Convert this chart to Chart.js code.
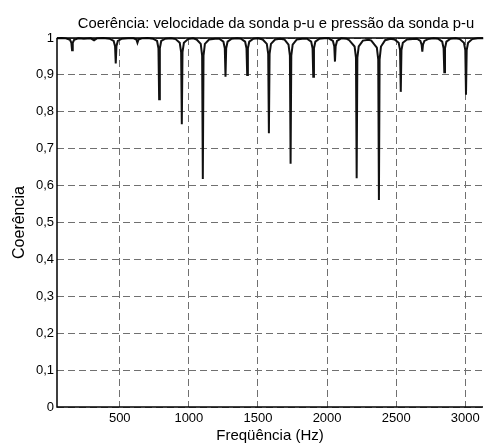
<!DOCTYPE html>
<html>
<head>
<meta charset="utf-8">
<script src="https://cdn.jsdelivr.net/npm/chart.js@4"></script>
<style>
html,body{margin:0;padding:0;background:#fff;}
#wrap{width:484px;height:445px;position:relative;}
</style>
</head>
<body>
<div id="wrap"><canvas id="c" width="484" height="445"></canvas></div>
<script>
const titleText = "Coerência: velocidade da sonda p-u e pressão da sonda p-u";
const xTitle = "Freqüência (Hz)";
const yTitle = "Coerência";
const xTicks = [500, 1000, 1500, 2000, 2500, 3000];
const yTicks = [0, 0.1, 0.2, 0.3, 0.4, 0.5, 0.6, 0.7, 0.8, 0.9, 1];

const freq = [
  45, 80, 110, 140, 150, 155, 160, 170, 200, 240,
  290, 314, 335, 380,
  426, 456, 466, 471, 476, 486, 516, 560,
  600, 620, 628, 636, 660, 700,
  740, 770, 780, 785, 790, 800, 830, 870,
  904, 934, 944, 949, 954, 964, 994, 1030,
  1056, 1086, 1096, 1101, 1106, 1116, 1146, 1190,
  1220, 1250, 1260, 1265, 1270, 1280, 1310, 1350,
  1377, 1407, 1417, 1422, 1427, 1437, 1467, 1500,
  1534, 1564, 1574, 1579, 1584, 1594, 1624, 1660,
  1691, 1721, 1731, 1736, 1741, 1751, 1781, 1820,
  1855, 1885, 1895, 1900, 1905, 1915, 1945, 1980,
  2012, 2042, 2052, 2057, 2062, 2072, 2102, 2140,
  2160, 2199, 2209, 2214, 2219, 2229, 2259, 2300,
  2320, 2360, 2370, 2375, 2380, 2390, 2420, 2460,
  2488, 2518, 2528, 2533, 2538, 2548, 2578, 2620,
  2650, 2675, 2684, 2689, 2694, 2704, 2730, 2770,
  2803, 2833, 2843, 2848, 2853, 2863, 2893, 2930,
  2960, 2990, 3000, 3005, 3010, 3020, 3050, 3090, 3130
];
const coh = [
  0.999, 1.000, 0.999, 0.995, 0.987, 0.967, 0.987, 0.995, 0.999, 0.998,
  0.999, 0.994, 0.999, 1.000,
  0.998, 0.992, 0.978, 0.931, 0.978, 0.992, 0.998, 0.999,
  0.999, 0.996, 0.987, 0.996, 0.999, 1.000,
  0.998, 0.992, 0.972, 0.834, 0.972, 0.992, 0.998, 0.999,
  0.997, 0.987, 0.962, 0.766, 0.962, 0.987, 0.997, 0.999,
  0.996, 0.984, 0.952, 0.618, 0.952, 0.984, 0.996, 0.998,
  0.998, 0.990, 0.972, 0.895, 0.972, 0.990, 0.998, 0.999,
  0.998, 0.990, 0.972, 0.900, 0.972, 0.990, 0.998, 0.999,
  0.996, 0.984, 0.957, 0.742, 0.957, 0.984, 0.996, 0.998,
  0.996, 0.982, 0.952, 0.659, 0.952, 0.982, 0.996, 0.998,
  0.998, 0.990, 0.972, 0.895, 0.972, 0.990, 0.998, 0.999,
  0.999, 0.992, 0.978, 0.936, 0.978, 0.992, 0.999, 0.998,
  0.994, 0.977, 0.947, 0.620, 0.947, 0.977, 0.993, 0.995,
  0.993, 0.974, 0.942, 0.561, 0.942, 0.977, 0.994, 0.998,
  0.996, 0.987, 0.967, 0.854, 0.967, 0.987, 0.996, 0.997,
  0.998, 0.992, 0.982, 0.963, 0.982, 0.992, 0.997, 0.999,
  0.998, 0.990, 0.972, 0.907, 0.972, 0.990, 0.998, 0.999,
  0.997, 0.987, 0.967, 0.846, 0.967, 0.987, 0.997, 0.999, 0.999
];

const FONT = "'Liberation Sans', Arial, sans-serif";
const points = freq.map((f, i) => ({x: f, y: coh[i]}));

const framePlugin = {
  id: 'frame',
  afterDraw(chart) {
    const ctx = chart.ctx, a = chart.chartArea;
    ctx.save();
    ctx.strokeStyle = '#000';
    ctx.lineWidth = 1.5;
    ctx.setLineDash([]);
    ctx.beginPath();
    ctx.moveTo(a.left, a.top);
    ctx.lineTo(a.left, a.bottom);
    ctx.lineTo(a.right, a.bottom);
    ctx.moveTo(a.left, a.top);
    ctx.lineTo(a.right, a.top);
    ctx.stroke();
    ctx.font = "14.8px " + FONT;
    ctx.fillStyle = '#000';
    ctx.textAlign = 'center';
    ctx.textBaseline = 'alphabetic';
    ctx.fillText(titleText, (a.left + a.right) / 2 + 6, 28);
    ctx.restore();
  }
};

new Chart(document.getElementById('c'), {
  type: 'line',
  data: {
    datasets: [{
      data: points,
      borderColor: '#111',
      borderWidth: 2,
      pointRadius: 0,
      tension: 0,
      fill: false,
      clip: false
    }]
  },
  options: {
    responsive: false,
    animation: false,
    devicePixelRatio: 1,
    layout: {padding: {top: 38, right: 1, left: 0, bottom: 0}},
    plugins: {legend: {display: false}, tooltip: {enabled: false}, title: {display: false}},
    scales: {
      x: {
        type: 'linear',
        min: 46, max: 3128,
        afterBuildTicks(s) { s.ticks = xTicks.map(v => ({value: v})); },
        afterFit(s) { s.height = 38; },
        ticks: {color: '#000', font: {family: FONT, size: 13}, padding: 4, maxRotation: 0, callback: v => String(v)},
        grid: {color: '#707070', lineWidth: 1, drawTicks: false},
        border: {display: false, dash: [7, 4]},
        title: {display: true, text: xTitle, color: '#000', font: {family: FONT, size: 15}, padding: {top: 0, bottom: 0}}
      },
      y: {
        type: 'linear',
        min: 0, max: 1,
        afterBuildTicks(s) { s.ticks = yTicks.map(v => ({value: v})); },
        afterFit(s) { s.width = 57; },
        ticks: {color: '#000', font: {family: FONT, size: 13}, padding: 3,
          callback: v => (v === 0 ? '0' : v === 1 ? '1' : v.toFixed(1).replace('.', ','))},
        grid: {color: '#707070', lineWidth: 1, drawTicks: false},
        border: {display: false, dash: [7, 4]},
        title: {display: true, text: yTitle, color: '#000', font: {family: FONT, size: 16}, padding: {top: 10, bottom: 0}}
      }
    }
  },
  plugins: [framePlugin]
});
</script>
</body>
</html>
